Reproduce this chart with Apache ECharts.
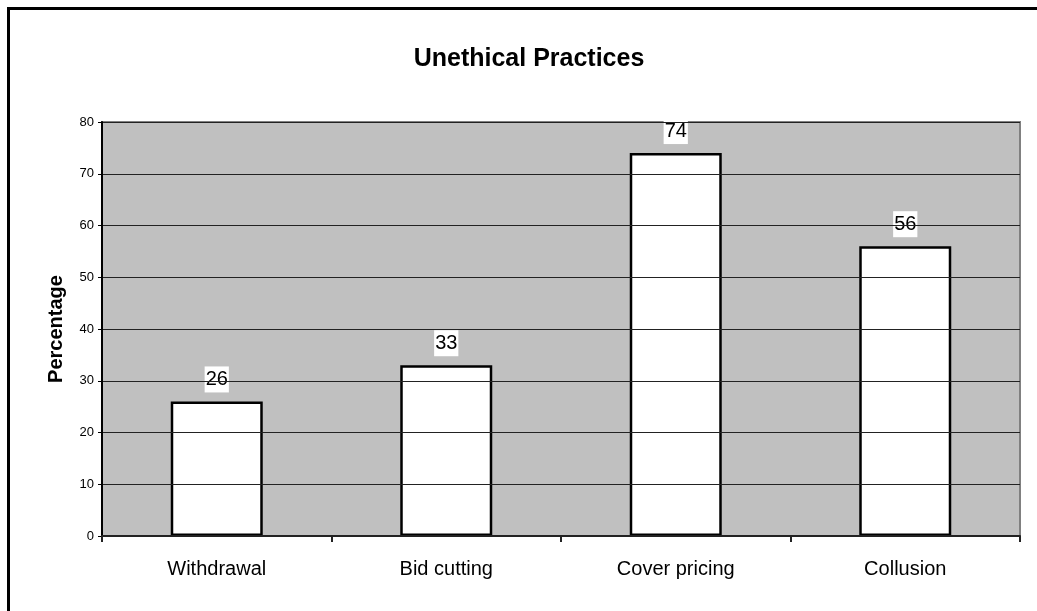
<!DOCTYPE html>
<html>
<head>
<meta charset="utf-8">
<script src="https://cdn.jsdelivr.net/npm/echarts@6/dist/echarts.min.js"></script>
<style>
  html, body { margin: 0; padding: 0; background: #fff; }
  #chart { width: 1037px; height: 611px; }
</style>
</head>
<body>
<div id="chart"></div>
<script>
// Survey results: share of respondents reporting each practice
const categories = ['Withdrawal', 'Bid cutting', 'Cover pricing', 'Collusion'];
const percentages = [26, 33, 74, 56];
const yTicks = { min: 0, max: 80, interval: 10 };
const chartTitle = 'Unethical Practices';

const chart = echarts.init(document.getElementById('chart'), null, { renderer: 'canvas' });
const font = 'Arial, "Liberation Sans", sans-serif';

chart.setOption({
  animation: false,
  backgroundColor: '#ffffff',
  graphic: [{
    type: 'rect',
    shape: { x: 8.5, y: 8.5, width: 1100, height: 700 },
    style: { fill: 'none', stroke: '#000', lineWidth: 3 },
    silent: true,
    z: 100
  }, {
    type: 'text',
    x: 529,
    y: 59,
    style: {
      text: chartTitle,
      align: 'center',
      verticalAlign: 'middle',
      font: 'bold 25px ' + font,
      fill: '#000'
    },
    silent: true
  }],
  grid: {
    left: 102, right: 17, top: 122, bottom: 75,
    show: true,
    backgroundColor: '#c0c0c0',
    borderColor: '#808080',
    borderWidth: 2
  },
  xAxis: {
    type: 'category',
    data: categories,
    boundaryGap: true,
    axisLine: { show: true, lineStyle: { color: '#222', width: 2 } },
    axisTick: { show: true, length: 6, lineStyle: { color: '#222', width: 2 } },
    axisLabel: { margin: 23, fontFamily: font, fontSize: 20, color: '#000' },
    splitLine: { show: false },
    z: 10
  },
  yAxis: {
    type: 'value',
    min: yTicks.min,
    max: yTicks.max,
    interval: yTicks.interval,
    name: 'Percentage',
    nameLocation: 'middle',
    nameGap: 36,
    nameTextStyle: { fontFamily: font, fontSize: 20, fontWeight: 'bold', color: '#000' },
    axisLine: { show: true, lineStyle: { color: '#000', width: 2 } },
    axisTick: { show: true, length: 4, lineStyle: { color: '#000', width: 1 } },
    axisLabel: { margin: 8, fontFamily: font, fontSize: 13, color: '#000' },
    splitLine: { show: true, lineStyle: { color: '#222', width: 1 } },
    z: 10
  },
  series: [{
    type: 'bar',
    data: percentages,
    barWidth: 92,
    itemStyle: { color: '#ffffff', borderColor: '#000', borderWidth: 2.5 },
    label: {
      show: true,
      position: 'top',
      distance: 9,
      fontFamily: font,
      fontSize: 20,
      color: '#000',
      backgroundColor: '#ffffff',
      padding: [3, 1]
    },
    z: 5
  }]
});
</script>
</body>
</html>
